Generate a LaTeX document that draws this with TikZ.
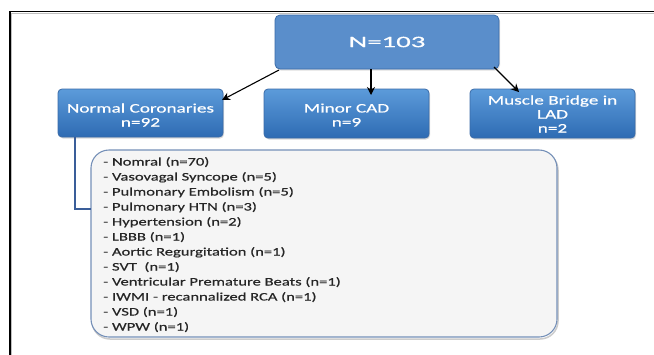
\documentclass[tikz,border=0pt]{standalone}
\usepackage{fontspec}
\setmainfont{Carlito}
\newfontfamily\boxfont[FakeStretch=1.48,FakeBold=0.6]{Carlito}
\newfontfamily\titlefont[FakeStretch=1.8,FakeBold=0.6]{Carlito}
\newfontfamily\listfont[FakeStretch=1.44,FakeBold=0.5]{Carlito}
\usetikzlibrary{calc,shadows,arrows.meta}
\definecolor{topblue}{HTML}{5A8ECB}
\definecolor{boxtop}{HTML}{5C9BDA}
\definecolor{boxbot}{HTML}{2E6BB3}
\definecolor{boxedge}{HTML}{3A6BA8}
\definecolor{listedge}{HTML}{7590B8}
\definecolor{listfill}{HTML}{F5F5F5}
\definecolor{linkblue}{HTML}{3A5E99}
\tikzset{
  topbox/.style={draw=boxedge, fill=topblue, rounded corners=5pt, line width=0.8pt,
    drop shadow={opacity=0.25, shadow xshift=1pt, shadow yshift=-1.5pt}},
  childbox/.style={draw=boxedge, top color=boxtop, bottom color=boxbot, rounded corners=4pt, line width=0.8pt,
    drop shadow={opacity=0.3, shadow xshift=1pt, shadow yshift=-1.5pt}},
  boxtext/.style={text=white, font=\boxfont\fontsize{13}{14}\selectfont, align=center, inner sep=0pt},
  listtext/.style={text=black!85, font=\listfont\fontsize{11.5}{15}\selectfont, anchor=base west, inner sep=0pt},
  arr/.style={-{Stealth[length=8pt,width=8pt]}, line width=1.1pt, black},
}
\begin{document}
\begin{tikzpicture}[x=1pt,y=-1pt]
\useasboundingbox (0,0) rectangle (654,354);
\fill[white] (0,0) rectangle (654,354);
% frame
\draw[black!25, line width=1pt] (11.5,356) -- (11.5,13.2) -- (656,13.2);
\draw[black, line width=1.4pt] (10,356) -- (10,11.7) -- (656,11.7);

% boxes
\draw[topbox] (275,15) rectangle (499,69);
\node[text=white, font=\titlefont\fontsize{16}{18}\selectfont, inner sep=0pt] (N) at (387,42) {N=103};
\coordinate (Nsw) at (275,69);
\coordinate (Nse) at (499,69);

\draw[childbox] (58,89) rectangle (223,137);
\node[boxtext] (NC) at (140.5,115) {Normal Coronaries\\n=92};
\coordinate (NCne) at (223,89);
\coordinate (NCsw) at (58,137);

\draw[childbox] (264,89) rectangle (429,138);
\node[boxtext] (MC) at (346.5,115) {Minor CAD\\n=9};
\coordinate (MCn) at (371,89);

\draw[childbox] (470,89) rectangle (635,138);
\node[boxtext] (MB) at (552.5,114) {Muscle Bridge in\\LAD\\n=2};
\coordinate (MBn) at (519,89);

% list box
\draw[black!20, line width=1.5pt, rounded corners=18pt] (92,152) rectangle (558,339);
\draw[draw=listedge, fill=listfill, line width=1.1pt, rounded corners=18pt] (91,150) rectangle (557,337);
\coordinate (LBw) at (91,209);

\foreach \t [count=\i] in {- Nomral (n=70),
  - Vasovagal Syncope (n=5),
  - Pulmonary Embolism (n=5),
  - Pulmonary HTN (n=3),
  - Hypertension (n=2),
  - LBBB (n=1),
  - Aortic Regurgitation (n=1),
  - SVT~ (n=1),
  - Ventricular Premature Beats (n=1),
  - IWMI - recannalized RCA (n=1),
  - VSD (n=1),
  - WPW (n=1)}
  \node[listtext] (L\i) at (103,{165.5+15*(\i-1)}) {\t};

% connectors
\draw[arr] (279,70) -- ($(NCne)+(-1,11)$);
\draw[arr] (371,69) -- ($(MCn)+(0,6)$);
\draw[arr] (494,67) -- ($(MBn)+(0,3)$);
\draw[linkblue, line width=2pt] ($(NCsw)+(17,0)$) |- (LBw);
\end{tikzpicture}
\end{document}
